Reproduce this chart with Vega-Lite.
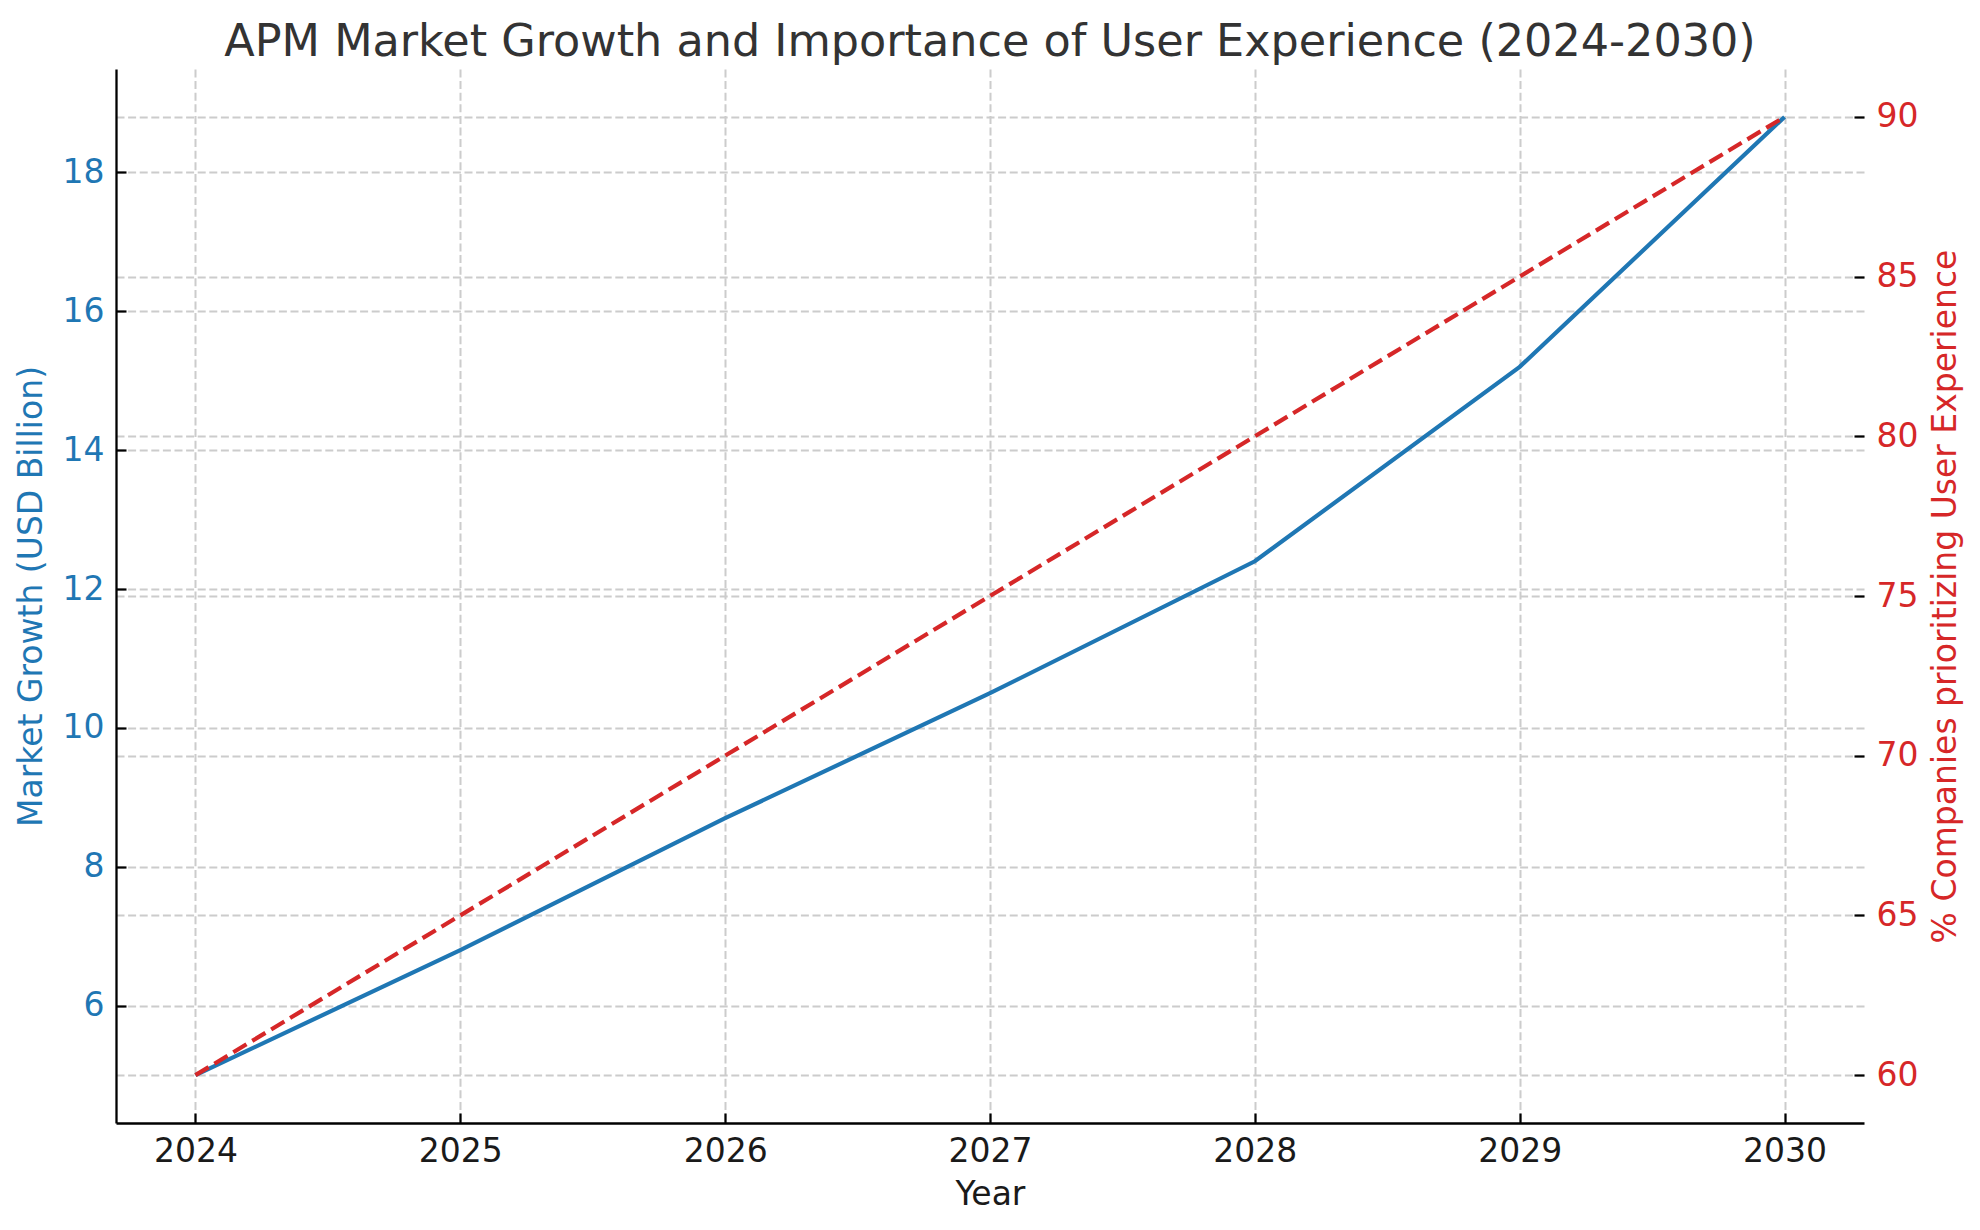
{
  "$schema": "https://vega.github.io/schema/vega-lite/v6.json",
  "width": 1748,
  "height": 1054,
  "autosize": {"type": "none"},
  "padding": {"left": 116, "top": 69, "right": 116, "bottom": 107},
  "background": "white",
  "config": {
    "font": "DejaVu Sans",
    "view": {"stroke": null},
    "axis": {
      "labelFont": "DejaVu Sans",
      "titleFont": "DejaVu Sans",
      "labelFontSize": 33,
      "titleFontSize": 33,
      "titleFontWeight": "normal",
      "tickColor": "black",
      "tickWidth": 2.2,
      "tickSize": -10,
      "domainColor": "black",
      "domainWidth": 2.3,
      "gridColor": "#cccccc",
      "gridDash": [8, 3.6],
      "gridWidth": 2
    }
  },
  "title": {
    "text": "APM Market Growth and Importance of User Experience (2024-2030)",
    "font": "DejaVu Sans",
    "fontSize": 44.5,
    "fontWeight": "normal",
    "color": "#333333",
    "anchor": "middle",
    "offset": 4
  },
  "data": {
    "values": [
      {"year": 2024, "market": 5.0, "pct": 60},
      {"year": 2025, "market": 6.8, "pct": 65},
      {"year": 2026, "market": 8.7, "pct": 70},
      {"year": 2027, "market": 10.5, "pct": 75},
      {"year": 2028, "market": 12.4, "pct": 80},
      {"year": 2029, "market": 15.2, "pct": 85},
      {"year": 2030, "market": 18.8, "pct": 90}
    ]
  },
  "encoding": {
    "x": {
      "field": "year",
      "type": "quantitative",
      "title": "Year",
      "scale": {"domain": [2023.7, 2030.3], "nice": false, "zero": false},
      "axis": {
        "values": [2024, 2025, 2026, 2027, 2028, 2029, 2030],
        "format": "d",
        "labelColor": "#1a1a1a",
        "titleColor": "#1a1a1a",
        "labelPadding": 22,
        "titlePadding": 10,
        "grid": true
      }
    }
  },
  "layer": [
    {
      "mark": {"type": "line", "color": "#1f77b4", "strokeWidth": 4.2},
      "encoding": {
        "y": {
          "field": "market",
          "type": "quantitative",
          "title": "Market Growth (USD Billion)",
          "scale": {"domain": [4.31, 19.49], "nice": false, "zero": false},
          "axis": {
            "orient": "left",
            "values": [6, 8, 10, 12, 14, 16, 18],
            "labelColor": "#1f77b4",
            "titleColor": "#1f77b4",
            "labelPadding": 22,
            "titlePadding": 14,
            "grid": true
          }
        }
      }
    },
    {
      "mark": {"type": "line", "color": "#d62728", "strokeWidth": 4.2, "strokeDash": [15.4, 6.7]},
      "encoding": {
        "y": {
          "field": "pct",
          "type": "quantitative",
          "title": "% Companies prioritizing User Experience",
          "scale": {"domain": [58.5, 91.5], "nice": false, "zero": false},
          "axis": {
            "orient": "right",
            "values": [60, 65, 70, 75, 80, 85, 90],
            "domain": false,
            "labelColor": "#d62728",
            "titleColor": "#d62728",
            "labelPadding": 22,
            "titlePadding": 12,
            "titleAngle": 270,
            "titleBaseline": "top",
            "grid": true
          }
        }
      }
    }
  ],
  "resolve": {"scale": {"y": "independent"}}
}
